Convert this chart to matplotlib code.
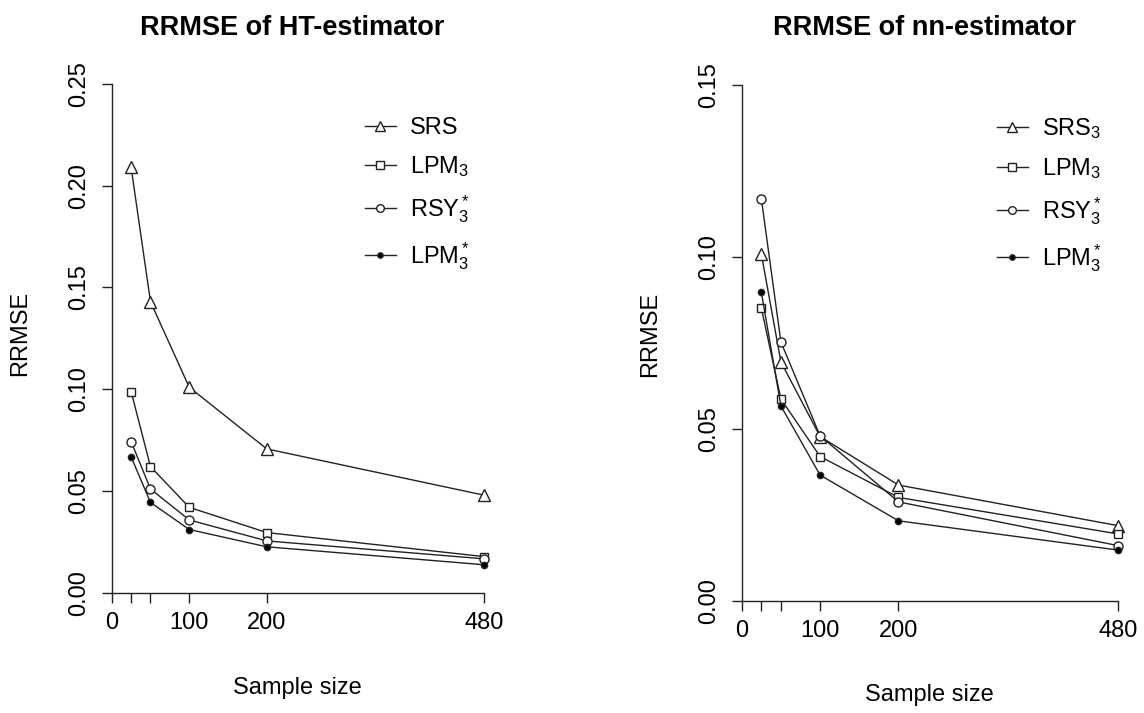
import matplotlib
matplotlib.use("Agg")
from matplotlib import pyplot as plt

plt.rcParams['font.family'] = ['Liberation Sans', 'DejaVu Sans']
plt.rcParams['mathtext.fontset'] = 'custom'
plt.rcParams['mathtext.rm'] = 'Liberation Sans'
plt.rcParams['mathtext.it'] = 'Liberation Sans'

#sample sizes
n = [25, 50, 100, 200, 480]
xticks = [0, 25, 50, 100, 200, 480]
xlabels = ["0", "", "", "100", "200", "480"]

#RRMSE of HT-estimator
ht_srs = [0.209, 0.143, 0.101, 0.0707, 0.048]
ht_lpm = [0.0989, 0.062, 0.042, 0.0296, 0.0178]
ht_rsy = [0.0743, 0.051, 0.0358, 0.0255, 0.0167]
ht_lpms = [0.0668, 0.0444, 0.0311, 0.0226, 0.0138]

#RRMSE of nn-estimator
nn_srs = [0.1009, 0.0695, 0.0478, 0.0337, 0.0219]
nn_lpm = [0.0852, 0.0587, 0.042, 0.0301, 0.0195]
nn_rsy = [0.117, 0.0753, 0.048, 0.0288, 0.0161]
nn_lpms = [0.0898, 0.0567, 0.0366, 0.0233, 0.0148]

fs = 17
fig = plt.figure(figsize=(11.44, 7.13), dpi=100)

def panel(rect, title, series, labels, ylim, yticks, leg_xy, title_y, xlab_y, ylab_x):
    ax = fig.add_axes(rect)
    styles = [dict(marker='^', ms=8.5, mfc='white'),
              dict(marker='s', ms=6, mfc='white'),
              dict(marker='o', ms=6.5, mfc='white'),
              dict(marker='o', ms=4.5, mfc='black')]
    for s, lab, st in zip(series, labels, styles):
        ax.plot(n, s, color='#222222', lw=1, mec='#222222', mew=1, label=lab, **st)
    ax.set_xlim(-10, 490)
    ax.set_ylim(ylim)
    for sp in ['top', 'right']:
        ax.spines[sp].set_visible(False)
    ax.spines['left'].set_position(('data', 0))
    ax.spines['bottom'].set_position(('data', 0))
    ax.spines['left'].set_bounds(yticks[0], yticks[-1])
    ax.spines['bottom'].set_bounds(0, 480)
    for sp in ['left', 'bottom']:
        ax.spines[sp].set_linewidth(1)
        ax.spines[sp].set_color('#222222')
    ax.set_xticks(xticks)
    ax.set_xticklabels(xlabels)
    ax.set_yticks(yticks)
    ax.set_yticklabels(["%.2f" % v for v in yticks], rotation=90, va='center')
    ax.tick_params(direction='out', length=7.5, width=1, labelsize=fs, color='#222222', pad=6)
    ax.tick_params(axis='y', pad=8)
    bb = ax.get_position()
    fig.text(bb.x0 + bb.width / 2 - 0.005, title_y, title, ha='center', va='center',
             fontsize=19.5, fontweight='bold')
    fig.text(bb.x0 + bb.width / 2, xlab_y, "Sample size", ha='center', va='center', fontsize=fs)
    fig.text(ylab_x, bb.y0 + bb.height / 2, "RRMSE", ha='center', va='center',
             fontsize=fs, rotation=90)
    ax.legend(loc='upper left', bbox_to_anchor=leg_xy, bbox_transform=fig.transFigure,
              frameon=False, fontsize=fs, handlelength=1.3, handletextpad=0.6,
              labelspacing=0.63, borderpad=0, borderaxespad=0, markerscale=0.85)
    return ax

panel([0.0909, 0.1543, 0.3387, 0.7565], "RRMSE of HT-estimator",
      [ht_srs, ht_lpm, ht_rsy, ht_lpms],
      ["SRS", r"LPM$_3$", r"RSY$_3^*$", r"LPM$_3^*$"],
      (-0.005, 0.26), [0.0, 0.05, 0.10, 0.15, 0.20, 0.25],
      (365 / 1144, 1 - 117 / 713), 1 - 28 / 713, 1 - 688 / 713, 20 / 1144)

panel([0.6415, 0.133, 0.3426, 0.796], "RRMSE of nn-estimator",
      [nn_srs, nn_lpm, nn_rsy, nn_lpms],
      [r"SRS$_3$", r"LPM$_3$", r"RSY$_3^*$", r"LPM$_3^*$"],
      (-0.005, 0.16), [0.0, 0.05, 0.10, 0.15],
      (997 / 1144, 1 - 116 / 713), 1 - 28 / 713, 1 - 695 / 713, 650 / 1144)

fig.savefig("out.png", dpi=100)
